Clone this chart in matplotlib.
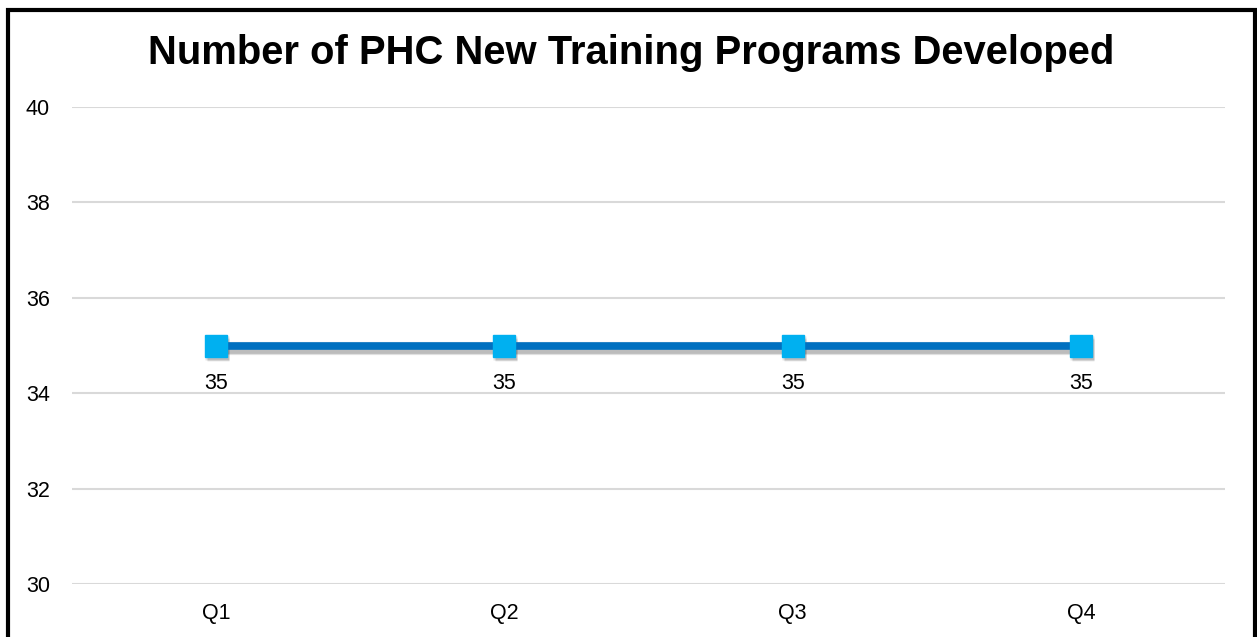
import matplotlib
matplotlib.use("Agg")
import matplotlib.pyplot as plt
import matplotlib.transforms as mtransforms
from matplotlib.patches import Rectangle

categories = ["Q1", "Q2", "Q3", "Q4"]
values = [35, 35, 35, 35]
yticks = [30, 32, 34, 36, 38, 40]
title = "Number of PHC New Training Programs Developed"

plt.rcParams['font.family'] = ['Liberation Sans', 'DejaVu Sans']

W, H = 1257, 637
fig = plt.figure(figsize=(W / 100, H / 100), dpi=100)
ax = fig.add_axes([72 / W, 1 - 584 / H, (1225 - 72) / W, (584 - 107) / H])

x = list(range(len(categories)))

# soft shadow: several offset translucent copies
for i, (dx, dy, a, lw_add) in enumerate([(1, -2, 0.10, 4), (2, -3, 0.10, 2), (2, -4, 0.08, 0)]):
    tr = ax.transData + mtransforms.ScaledTranslation(dx / 100, dy / 100, fig.dpi_scale_trans)
    ax.plot(x, values, color='black', alpha=a, linewidth=5.5 + lw_add, solid_capstyle='butt',
            transform=tr, zorder=2)
    ax.plot(x, values, linestyle='none', marker='s', markersize=15.5 + lw_add / 2,
            markerfacecolor='black', markeredgecolor='none', alpha=a, transform=tr, zorder=2)

ax.plot(x, values, color='#0070C0', linewidth=5.5, solid_capstyle='butt', zorder=3)
ax.plot(x, values, linestyle='none', marker='s', markersize=15.5, markerfacecolor='#00B0F0',
        markeredgecolor='#00B0F0', zorder=4)

for xi, v in zip(x, values):
    ax.annotate(f"{v}", (xi, v), xytext=(0, -38), textcoords='offset pixels',
                ha='center', va='center', fontsize=15.5, color='black')

ax.set_xlim(-0.5, len(categories) - 0.5)
ax.set_ylim(min(yticks), max(yticks))
ax.set_yticks(yticks)
ax.set_xticks(x)
ax.set_xticklabels(categories)
ax.tick_params(axis='both', length=0, labelsize=15.5, colors='black')
ax.tick_params(axis='y', pad=16)
ax.tick_params(axis='x', pad=14)
ax.grid(axis='y', color='#D9D9D9', linewidth=1.5)
ax.set_axisbelow(True)
for s in ax.spines.values():
    s.set_visible(False)

fig.text(631 / W, 1 - 53 / H, title, ha='center', va='center', fontsize=28.8, fontweight='bold')

border = Rectangle((7.5 / W, -0.05), (1255 - 7.5) / W, 1 - 9.5 / H + 0.05, transform=fig.transFigure,
                   fill=False, edgecolor='black', linewidth=3, clip_on=False)
fig.patches.append(border)

fig.savefig("out.png", dpi=100, facecolor='white')
